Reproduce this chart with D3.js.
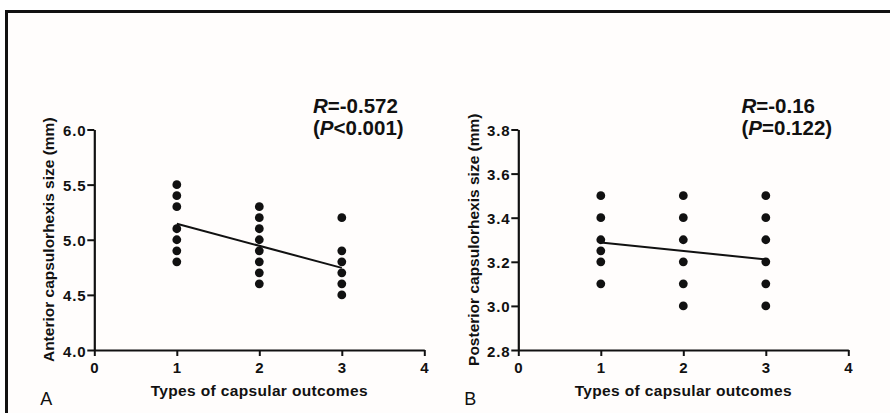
<!DOCTYPE html>
<html>
<head>
<meta charset="utf-8">
<script src="https://cdn.jsdelivr.net/npm/d3@7"></script>
<style>
  html, body { margin: 0; padding: 0; background: #fff; }
  svg { display: block; font-family: "Liberation Sans", Arial, sans-serif; }
</style>
</head>
<body>
<div id="chart"></div>
<script>
const xTicks = [0, 1, 2, 3, 4];
const outcomeTypes = [1, 2, 3];

// panel A: anterior capsulorhexis size per outcome type
const anteriorSizes = [
  [5.5, 5.4, 5.3, 5.1, 5.0, 4.9, 4.8],
  [5.3, 5.2, 5.1, 5.0, 4.9, 4.8, 4.7, 4.6],
  [5.2, 4.9, 4.8, 4.7, 4.6, 4.5]
];
const anteriorTicks = [4.0, 4.5, 5.0, 5.5, 6.0];
const anteriorFit = [5.145, 4.745];

// panel B: posterior capsulorhexis size per outcome type
const posteriorSizes = [
  [3.5, 3.4, 3.3, 3.25, 3.2, 3.1],
  [3.5, 3.4, 3.3, 3.2, 3.1, 3.0],
  [3.5, 3.4, 3.3, 3.2, 3.1, 3.0]
];
const posteriorTicks = [2.8, 3.0, 3.2, 3.4, 3.6, 3.8];
const posteriorFit = [3.287, 3.211];

const width = 890, height = 413;
const ink = "#111";

const svg = d3.select("#chart").append("svg")
  .attr("width", width).attr("height", height);

// cream panel with heavy frame on top/left
svg.append("rect").attr("x", 6.5).attr("y", 11.5)
  .attr("width", width + 10).attr("height", height + 10)
  .attr("fill", "#fffdfc").attr("stroke", ink).attr("stroke-width", 3);

function panel(opt) {
  const x = d3.scaleLinear().domain([0, 4]).range([opt.left, opt.left + 330]);
  const y = d3.scaleLinear().domain(opt.yDomain).range([350, 129.5]);
  const g = svg.append("g");

  const xAxis = g.append("g").attr("transform", "translate(0,350)")
    .call(d3.axisBottom(x).tickValues(xTicks).tickSize(6).tickSizeOuter(0).tickPadding(6).tickFormat(d3.format("d")));
  const yAxis = g.append("g").attr("transform", `translate(${opt.left},0)`)
    .call(d3.axisLeft(y).tickValues(opt.yTicks).tickSize(7).tickSizeOuter(0).tickPadding(1).tickFormat(d3.format(".1f")));

  [xAxis, yAxis].forEach(a => {
    a.select(".domain").attr("stroke", ink).attr("stroke-width", 2.2);
    a.selectAll(".tick line").attr("stroke", ink).attr("stroke-width", 2);
    a.selectAll(".tick text").attr("fill", ink)
      .style("font-size", "15px").style("font-weight", "bold").style("letter-spacing", "0.8px")
      .style("font-family", "'Liberation Sans', Arial, sans-serif");
  });
  yAxis.selectAll(".tick text").attr("dy", "0.4em");

  const pts = [];
  opt.values.forEach((vals, i) => vals.forEach(v => pts.push({ t: outcomeTypes[i], v })));
  g.selectAll("circle.dot").data(pts).join("circle")
    .attr("class", "dot")
    .attr("cx", d => x(d.t)).attr("cy", d => y(d.v))
    .attr("r", 4.4).attr("fill", ink);

  g.append("line")
    .attr("x1", x(1)).attr("y1", y(opt.fit[0]))
    .attr("x2", x(3)).attr("y2", y(opt.fit[1]))
    .attr("stroke", ink).attr("stroke-width", 2);

  g.append("text")
    .attr("x", x(2)).attr("y", 396)
    .attr("text-anchor", "middle").attr("fill", ink)
    .style("font-size", "15.5px").style("font-weight", "bold").style("letter-spacing", "0.35px")
    .text("Types of capsular outcomes");

  g.append("text")
    .attr("transform", `translate(${opt.yTitleX},${y(opt.yDomain[0]) / 2 + y(opt.yDomain[1]) / 2}) rotate(-90)`)
    .attr("text-anchor", "middle").attr("fill", ink)
    .style("font-size", "15.5px").style("font-weight", "bold")
    .text(opt.yTitle);

  g.append("text")
    .attr("x", opt.left - 54).attr("y", 405).attr("fill", ink)
    .style("font-size", "18px")
    .text(opt.letter);

  const ann = g.append("text").attr("fill", ink)
    .style("font-size", "20.5px").style("font-weight", "bold");
  const l1 = ann.append("tspan").attr("x", opt.annX).attr("y", 113);
  l1.append("tspan").style("font-style", "italic").text("R");
  l1.append("tspan").text(opt.r);
  const l2 = ann.append("tspan").attr("x", opt.annX).attr("y", 135);
  l2.append("tspan").text("(");
  l2.append("tspan").style("font-style", "italic").text("P");
  l2.append("tspan").text(opt.p + ")");
}

panel({
  left: 94.3, yDomain: [4.0, 6.0], yTicks: anteriorTicks, values: anteriorSizes,
  fit: anteriorFit, yTitle: "Anterior capsulorhexis size (mm)", yTitleX: 54,
  letter: "A", annX: 313, r: "=-0.572", p: "<0.001"
});

panel({
  left: 518.3, yDomain: [2.8, 3.8], yTicks: posteriorTicks, values: posteriorSizes,
  fit: posteriorFit, yTitle: "Posterior capsulorhexis size (mm)", yTitleX: 479,
  letter: "B", annX: 741.5, r: "=-0.16", p: "=0.122"
});
</script>
</body>
</html>
